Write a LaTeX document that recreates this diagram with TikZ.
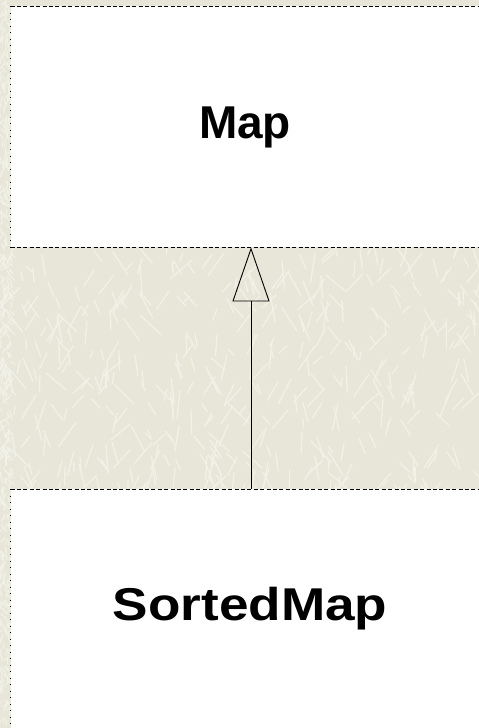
\documentclass[tikz,border=0pt]{standalone}
\usepackage{fontspec}
\setmainfont{Liberation Sans}
\usetikzlibrary{arrows.meta}
\definecolor{paper}{RGB}{231,230,216}
\definecolor{streak}{RGB}{242,241,232}
\tikzset{
  classbox/.style={rectangle, fill=white, draw=none, inner sep=0pt, anchor=north west},
  dashedge/.style={line width=0.9pt, dash pattern=on 4pt off 2.4pt},
  dotedge/.style={line width=0.9pt, dash pattern=on 1.2pt off 5.3pt},
  classname/.style={font=\fontsize{46}{50}\selectfont\bfseries, anchor=base, inner sep=0pt},
  inherit/.style={line width=0.9pt, -{Triangle[open, length=54pt, width=37pt, line width=0.9pt]}}
}
\begin{document}
\begin{tikzpicture}[x=1pt, y=-1pt]
\useasboundingbox (0,0) rectangle (479,728);
\fill[paper] (0,0) rectangle (479,728);
\clip (0,0) rectangle (479,728);
\pgfmathsetseed{4242}
\foreach \i in {1,...,450}{
  \pgfmathsetmacro{\px}{random(0,479)}
  \pgfmathsetmacro{\py}{random(240,500)}
  \pgfmathsetmacro{\ang}{random(40,140)}
  \pgfmathsetmacro{\len}{random(8,30)}
  \draw[streak, line width=1.3pt, line cap=round] (\px,\py) -- ++(\ang:\len);
}
\foreach \i in {1,...,500}{
  \pgfmathsetmacro{\py}{random(0,728)}
  \pgfmathsetmacro{\px}{random(0,11)}
  \pgfmathsetmacro{\ang}{random(40,140)}
  \draw[streak, line width=1.1pt, line cap=round] (\px,\py) -- ++(\ang:6);
}
\node[classbox, minimum width=480pt, minimum height=241pt] (map) at (10.5,6) {};
\node[classbox, minimum width=480pt, minimum height=250pt] (sub) at (10.5,489) {};
\draw[dashedge] (map.north west) -- (map.north east);
\draw[dashedge] (map.south west) -- (map.south east);
\draw[dotedge] (map.north west) -- (map.south west);
\draw[dashedge] (sub.north west) -- (sub.north east);
\draw[dotedge] (sub.north west) -- (sub.south west);
\node[classname] (maplabel) at (245,138) {Map};
\node[classname] (sublabel) at (250,620) {\scalebox{1.155}[1]{SortedMap}};
\coordinate (ax) at (251,0);
\draw[inherit] (sub.north -| ax) -- (map.south -| ax);
\end{tikzpicture}
\end{document}
